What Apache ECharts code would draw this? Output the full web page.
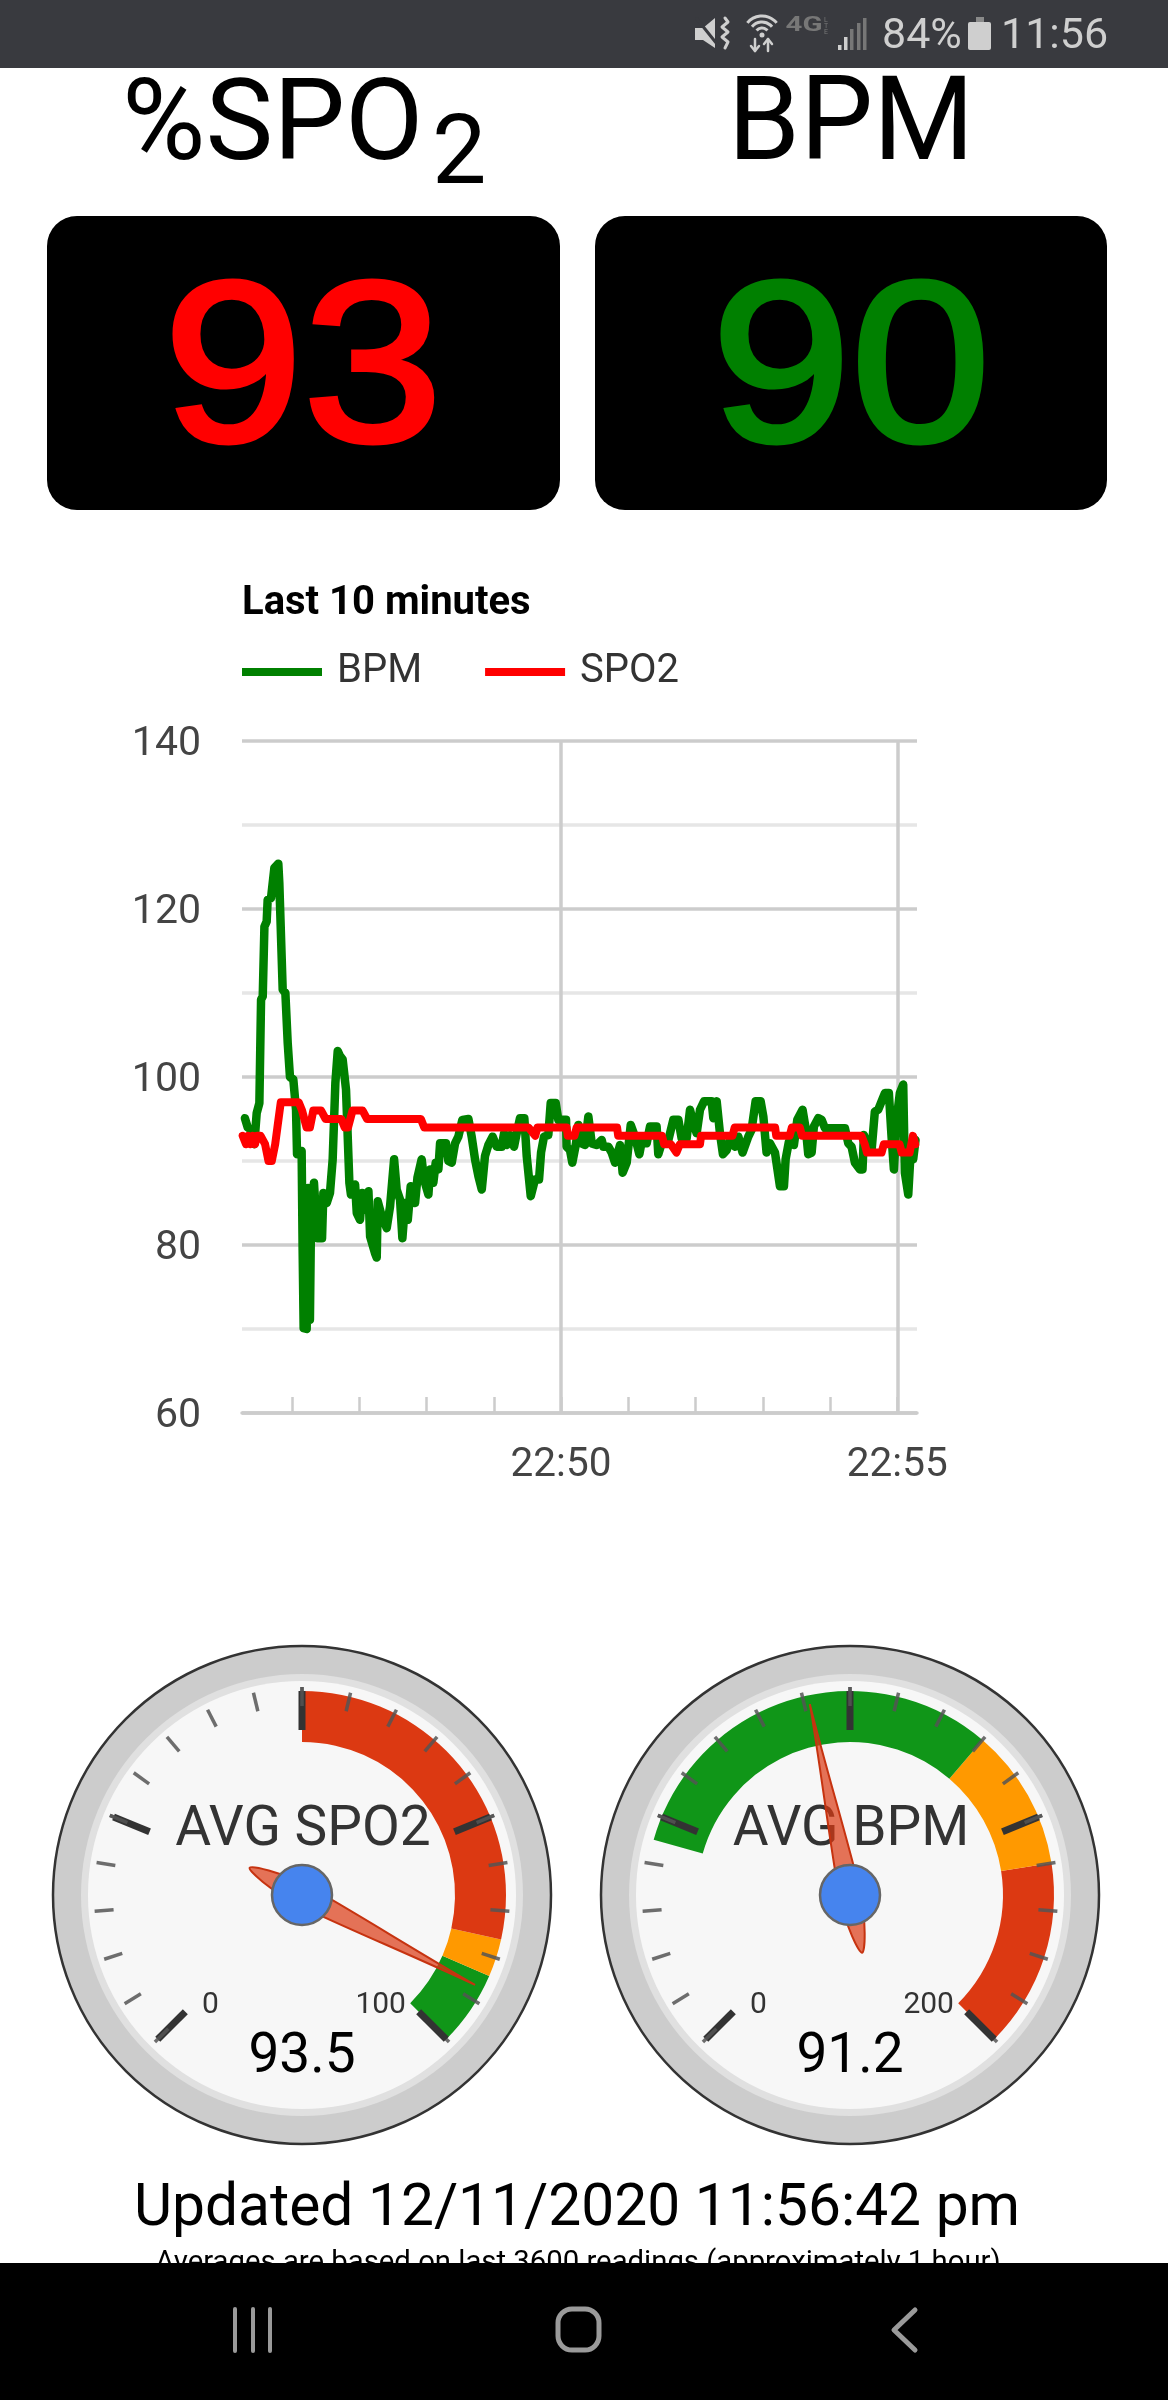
<!DOCTYPE html>
<html>
<head>
<meta charset="utf-8">
<title>Pulse oximeter</title>
<style>
  html, body { margin: 0; padding: 0; background: #fff; }
  #chart { width: 1168px; height: 2400px; }
</style>
<script src="https://cdn.jsdelivr.net/npm/echarts@6/dist/echarts.min.js"></script>
</head>
<body>
<div id="chart"></div>
<script>
// seconds after 22:45:00
const bpmSeconds = [18, 20.5, 23.5, 26.4, 28.5, 30.9, 32.4, 33.9, 35.4, 37.4, 38.3, 41.3, 44.3, 47.8, 48.7, 51.7, 54.1, 56.2, 58.2, 61.2, 63.6, 64.5, 68.6, 69.5, 70.4, 73.1, 74.3, 76, 77, 79.6, 82.6, 86.8, 88, 91, 93.9, 96.3, 98.7, 100.8, 102.8, 105.2, 108.2, 111.2, 112.6, 116.3, 117.8, 120.7, 122.5, 124.6, 128.2, 129.7, 134.1, 135.6, 136.5, 140.1, 144.5, 147.5, 151.1, 153.4, 156.4, 158.5, 160.9, 163.3, 165.9, 169.8, 171.9, 175.7, 177.8, 181.7, 183.2, 186.1, 188.2, 190.6, 192.1, 197.4, 199.5, 202.5, 205.5, 208.4, 212, 217.4, 220.3, 223.3, 226.3, 229.3, 232.2, 235.2, 239, 242.6, 247.1, 249.2, 251.5, 254.5, 258.1, 260.5, 263.4, 267.3, 269.4, 273, 276.8, 280.4, 282.2, 284.8, 288.7, 290.8, 295.3, 297.6, 299.7, 304.5, 305, 308, 310.1, 313.4, 315.5, 318.5, 321.4, 324.4, 327.4, 331.8, 336.3, 337.8, 342.2, 345.2, 348.2, 352.7, 355, 358.6, 362.2, 366, 369.9, 372, 376.4, 379.4, 385.3, 386.8, 389.8, 395.8, 400.2, 404.7, 407.6, 412.1, 415.1, 418.1, 421, 424, 427.6, 434.4, 435.9, 438.9, 441.8, 444.5, 447.8, 450.7, 455.2, 458.2, 462, 467.1, 470, 473.6, 478.1, 480.5, 483.4, 486.4, 490.9, 495.3, 498.9, 500.4, 503.3, 507.8, 510.8, 515.5, 518.5, 520.6, 523.6, 525.6, 529.5, 532.5, 535.5, 544.4, 553.3, 556.3, 559.2, 562.2, 566.7, 569, 570.2, 574.1, 577.1, 580, 583, 586, 589, 592.5, 594.9, 597, 599.4, 602.3, 605.3, 606.8, 609.8, 611.9, 614.2, 616.3];
const bpmValues = [95.1, 94, 93.7, 92, 95.7, 96.9, 109.2, 109.6, 117.9, 118.5, 121.1, 121.3, 124.9, 125.4, 123.1, 110.4, 110, 104, 100, 99.7, 96.1, 90.8, 91.2, 79.4, 70.1, 70, 86.8, 71.1, 83.4, 87.4, 80.8, 80.8, 86.2, 85, 86.2, 90.2, 99.3, 103.1, 102.5, 102.1, 98.5, 87.4, 86, 87.2, 83.8, 83, 86.2, 84.2, 86.4, 81, 79, 78.5, 85.2, 83.4, 82, 84.6, 90.2, 86.6, 85.4, 80.8, 85, 83, 87, 85, 88, 90.2, 87.8, 86, 89, 87.4, 89.8, 89, 92.1, 92.1, 90, 89.8, 92.1, 92.9, 94.9, 95, 92.9, 90.2, 88.2, 86.6, 90.6, 91.9, 92.9, 91.7, 91.7, 93.3, 91.9, 93.1, 91.7, 93.3, 95.1, 95.1, 90.6, 85.8, 87.8, 87.8, 91, 92.9, 93.1, 96.9, 96.9, 94.9, 94.9, 94.9, 91.7, 91.3, 89.8, 92.1, 94.3, 92.1, 91.9, 95.3, 92.1, 91.9, 92.5, 91.7, 91.7, 91, 89.8, 91.9, 88.6, 89.8, 94.3, 92.9, 90.8, 92.3, 92.1, 94.1, 94.1, 90.8, 92.1, 92.5, 94.9, 94.9, 92.7, 92.7, 96.1, 94.5, 93.3, 96.1, 97.1, 97.1, 95.1, 97.1, 93.3, 90.8, 91.3, 92.5, 91.7, 92.9, 91, 92.9, 93.7, 97.1, 97.1, 95.3, 91, 92.1, 91, 87, 87, 90.2, 92.3, 91.9, 94.9, 96.1, 93.7, 90.8, 91, 94.1, 95.1, 94.9, 93.9, 93.9, 93.9, 92.1, 91.7, 89.8, 89, 89, 93.1, 91.7, 91.3, 95.9, 96.1, 97.1, 98.1, 98.1, 92.9, 89, 94.9, 98.1, 99.1, 88.6, 86, 91, 90.2, 92.5];

const spo2Seconds = [16, 19, 21, 23, 25, 27, 29, 32, 36, 39, 42, 45, 47, 50, 66, 69, 73, 76, 79, 86, 90, 104, 107, 110, 114, 123, 127, 175, 178, 271, 277, 279, 305, 306, 312, 314, 350, 351, 390, 392, 398, 403, 406, 424, 425, 453, 455, 491, 492, 504, 506, 513, 515, 568, 571, 573, 586, 588, 602, 604, 611, 614, 616];
const spo2Values = [93, 92, 93, 92, 93, 92, 93, 93, 92, 90, 90, 92, 94, 97, 97, 96, 94, 94, 96, 96, 95, 95, 94, 94, 96, 96, 95, 95, 94, 94, 93, 94, 94, 93, 93, 94, 94, 93, 93, 92, 92, 91, 92, 92, 93, 93, 94, 94, 93, 93, 94, 94, 93, 93, 92, 91, 91, 92, 92, 91, 91, 93, 92];

const yTicksMajor = 20;
const yMin = 60;
const yMax = 140;
const xMin = 15.4;
const xMax = 617.6;
const xLabelSeconds = [300, 600];
const xTickSeconds = [60, 120, 180, 240, 300, 360, 420, 480, 540, 600];

const spo2Reading = "93";
const bpmReading = "90";
const avgSpo2 = 93.5;
const avgBpm = 91.2;
const spo2Bands = [[0.5, "transparent"], [0.88, "#dc3912"], [0.92, "#ff9900"], [1, "#109618"]];
const bpmBands = [[0.225, "transparent"], [0.65, "#109618"], [0.8, "#ff9900"], [1, "#dc3912"]];

const needlePath = "path://M50 0 C60 60 100 160 100 195 C100 225 65 254 50 254 C35 254 0 225 0 195 C0 160 40 60 50 0 Z";
const SANS = "Roboto";
const BAR = "#393a3f";
const ICON = "#cfcfcf";

function gaugeSeries(name, value, max, bands, cx) {
  return {
    type: "gauge",
    center: [cx, 1895],
    radius: 204,
    min: 0,
    max: max,
    startAngle: 225,
    endAngle: -45,
    splitNumber: 4,
    animation: false,
    axisLine: { lineStyle: { width: 51, color: bands } },
    axisTick: {
      splitNumber: 5,
      distance: -55,
      length: 19,
      lineStyle: { color: "rgba(85,85,85,0.85)", width: 3.5 }
    },
    splitLine: {
      distance: -51,
      length: 39,
      lineStyle: { color: "#333", width: 7 }
    },
    axisLabel: {
      distance: 52,
      formatter: function (v) {
        if (v === 0) return "{lo|0}";
        if (v === max) return "{hi|" + max + "}";
        return "";
      },
      rich: {
        lo: { fontFamily: SANS, fontSize: 30, color: "#333", padding: [0, 0, 10, 16] },
        hi: { fontFamily: SANS, fontSize: 30, color: "#333", padding: [0, 12, 10, 0] }
      }
    },
    pointer: {
      icon: needlePath,
      length: 254,
      width: 21,
      offsetCenter: [0, 59],
      itemStyle: { color: "rgba(220,57,18,0.7)", borderColor: "#c63310", borderWidth: 2 }
    },
    anchor: {
      show: true,
      showAbove: true,
      size: 60,
      itemStyle: { color: "#4684ee", borderColor: "#666", borderWidth: 2.5 }
    },
    title: {
      offsetCenter: [1, -64],
      fontFamily: SANS,
      fontSize: 55,
      color: "#333"
    },
    detail: {
      offsetCenter: [0, 163],
      fontFamily: SANS,
      fontWeight: "normal",
      fontSize: 55,
      color: "#000",
      formatter: "{value}"
    },
    data: [{ value: value, name: name }]
  };
}

function dial(cx) {
  return [
    { type: "circle", shape: { cx: cx, cy: 1895, r: 249 }, style: { fill: "#ccc", stroke: "#333", lineWidth: 2.5 } },
    { type: "circle", shape: { cx: cx, cy: 1895, r: 221 }, style: { fill: "#e0e0e0" } },
    { type: "circle", shape: { cx: cx, cy: 1895, r: 214 }, style: { fill: "#f7f7f7" } }
  ];
}

function label(text, x, y, font, fill, align, scaleX) {
  return {
    type: "text",
    x: x,
    y: y,
    scaleX: scaleX || 1,
    style: { text: text, font: font, fill: fill, align: align || "center", verticalAlign: "middle" }
  };
}

// the big readings are heavier than the regular face, so they get an outline too
function reading(text, x, color) {
  return {
    type: "text",
    x: x,
    y: 378,
    scaleX: 1.1,
    style: { text: text, font: '228px "Liberation Sans"', fill: color, stroke: color, lineWidth: 5, align: "center", verticalAlign: "middle" }
  };
}

function wifiArc(r) {
  return {
    type: "arc",
    shape: { cx: 762, cy: 35, r: r, startAngle: Math.PI * 1.22, endAngle: Math.PI * 1.78 },
    style: { stroke: ICON, lineWidth: 3, fill: "none" }
  };
}

function line(points, color, width) {
  return {
    type: "polyline",
    shape: { points: points },
    style: { stroke: color, lineWidth: width, fill: "none", lineCap: "round", lineJoin: "round" }
  };
}

const graphics = [].concat(
  dial(302),
  dial(850),
  [
    // page header
    { type: "rect", shape: { x: 0, y: 0, width: 1168, height: 68 }, style: { fill: BAR } },
    label("%SPO", 122, 130, '114px "Roboto"', "#000", "left"),
    label("2", 432, 159, '97px "Roboto"', "#000", "left"),
    label("BPM", 851, 130, '116px "Roboto"', "#000"),
    { type: "rect", shape: { x: 47, y: 216, width: 513, height: 294, r: 30 }, style: { fill: "#000" } },
    { type: "rect", shape: { x: 595, y: 216, width: 512, height: 294, r: 30 }, style: { fill: "#000" } },
    reading(spo2Reading, 303, "#ff0000"),
    reading(bpmReading, 851, "#008000"),

    // status bar icons
    { type: "polygon", shape: { points: [[695, 28], [703, 28], [715, 18], [715, 48], [703, 40], [695, 40]] }, style: { fill: ICON } },
    line([[697, 19], [717, 44]], BAR, 3),
    line([[725, 18], [728, 22], [722, 27], [728, 32], [722, 37], [728, 42], [725, 48]], ICON, 3),
    wifiArc(19),
    wifiArc(13),
    wifiArc(7),
    { type: "circle", shape: { cx: 762, cy: 35, r: 2.5 }, style: { fill: ICON } },
    line([[755, 39], [755, 51]], ICON, 2.5),
    line([[751, 46], [755, 51], [759, 46]], ICON, 2.5),
    line([[768, 39], [768, 51]], ICON, 2.5),
    line([[764, 44], [768, 39], [772, 44]], ICON, 2.5),
    label("4G", 804, 26, 'bold 21px "Roboto"', "#777", "center", 1.4),
    label("L", 826, 20, '7px "Roboto"', "#777"),
    label("T", 826, 26, '7px "Roboto"', "#777"),
    label("E", 826, 32, '7px "Roboto"', "#777"),
    { type: "rect", shape: { x: 838, y: 45, width: 3.5, height: 5 }, style: { fill: ICON } },
    { type: "rect", shape: { x: 844, y: 37, width: 3.5, height: 13 }, style: { fill: ICON } },
    { type: "rect", shape: { x: 850, y: 29, width: 3.5, height: 21 }, style: { fill: "#777" } },
    { type: "rect", shape: { x: 857, y: 23, width: 3.5, height: 27 }, style: { fill: "#777" } },
    { type: "rect", shape: { x: 863, y: 18, width: 3.5, height: 32 }, style: { fill: "#777" } },
    label("84%", 882, 37, '43px "Roboto"', ICON, "left"),
    { type: "rect", shape: { x: 976, y: 17, width: 8, height: 6 }, style: { fill: "#8a8a8a" } },
    { type: "rect", shape: { x: 968, y: 22, width: 23, height: 28, r: 2 }, style: { fill: ICON } },
    label("11:56", 1001, 37, '43px "Roboto"', ICON, "left"),

    // footer, the bar below cuts the last line like the screenshot does
    label("Updated 12/11/2020 11:56:42 pm", 577, 2210, '58.7px "Roboto"', "#000"),
    label("Averages are based on last 3600 readings (approximately 1 hour)", 578, 2264, '29.3px "Roboto"', "#000"),
    { type: "rect", shape: { x: 0, y: 2263, width: 1168, height: 137 }, style: { fill: "#000" } },
    line([[235, 2309], [235, 2351]], "#9a9a9a", 4),
    line([[253, 2309], [253, 2351]], "#9a9a9a", 4),
    line([[270, 2309], [270, 2351]], "#9a9a9a", 4),
    { type: "rect", shape: { x: 558, y: 2309, width: 41, height: 41, r: 14 }, style: { fill: "none", stroke: "#9a9a9a", lineWidth: 5 } },
    line([[915, 2310], [894, 2330], [915, 2350]], "#9a9a9a", 5)
  ]
);

const chart = echarts.init(document.getElementById("chart"));

chart.setOption({
  animation: false,
  backgroundColor: "#fff",
  textStyle: { fontFamily: SANS },
  title: {
    text: "Last 10 minutes",
    left: 242,
    top: 584,
    padding: 0,
    textStyle: { fontFamily: SANS, fontWeight: "bold", fontSize: 40, color: "#000" }
  },
  legend: {
    data: ["BPM", "SPO2"],
    left: 242,
    top: 652,
    padding: 0,
    icon: "rect",
    itemWidth: 80,
    itemHeight: 8,
    itemGap: 63,
    selectedMode: false,
    textStyle: { fontFamily: SANS, fontSize: 40, color: "#333", padding: [0, 0, 0, 10] }
  },
  grid: { left: 242, right: 251, top: 741, bottom: 987 },
  xAxis: [
    {
      type: "value",
      min: xMin,
      max: xMax,
      axisLine: { show: true, lineStyle: { color: "#ccc", width: 3.5 } },
      axisTick: { show: false, customValues: xLabelSeconds },
      splitLine: { show: true, lineStyle: { color: "#ccc", width: 3.5 } },
      axisLabel: {
        customValues: xLabelSeconds,
        margin: 32,
        fontFamily: SANS,
        fontSize: 40.5,
        color: "#444",
        formatter: function (v) {
          return "22:" + (45 + v / 60);
        }
      }
    },
    {
      type: "value",
      min: xMin,
      max: xMax,
      position: "bottom",
      axisLine: { show: false },
      axisTick: { show: true, inside: true, length: 16, customValues: xTickSeconds, lineStyle: { color: "#ccc", width: 2.5 } },
      splitLine: { show: false },
      axisLabel: { show: false }
    }
  ],
  yAxis: {
    type: "value",
    min: yMin,
    max: yMax,
    interval: yTicksMajor,
    axisLine: { show: false },
    axisTick: { show: false },
    minorTick: { show: false, splitNumber: 2 },
    splitLine: { show: true, lineStyle: { color: "#ccc", width: 3.5 } },
    minorSplitLine: { show: true, lineStyle: { color: "#e6e6e6", width: 3.5 } },
    axisLabel: {
      margin: 41,
      formatter: "{tick|{value}}",
      rich: { tick: { fontFamily: SANS, fontSize: 41, color: "#444", padding: [8, 0, 0, 0] } }
    }
  },
  series: [
    {
      name: "BPM",
      type: "line",
      showSymbol: false,
      color: "#008000",
      lineStyle: { color: "#008000", width: 8.5, cap: "round", join: "round" },
      data: bpmSeconds.map(function (s, i) { return [s, bpmValues[i]]; })
    },
    {
      name: "SPO2",
      type: "line",
      showSymbol: false,
      color: "#ff0000",
      lineStyle: { color: "#ff0000", width: 8, cap: "round", join: "round" },
      data: spo2Seconds.map(function (s, i) { return [s, spo2Values[i]]; })
    },
    gaugeSeries("AVG SPO2", avgSpo2, 100, spo2Bands, 302),
    gaugeSeries("AVG BPM", avgBpm, 200, bpmBands, 850)
  ],
  graphic: { elements: graphics }
});
</script>
</body>
</html>
